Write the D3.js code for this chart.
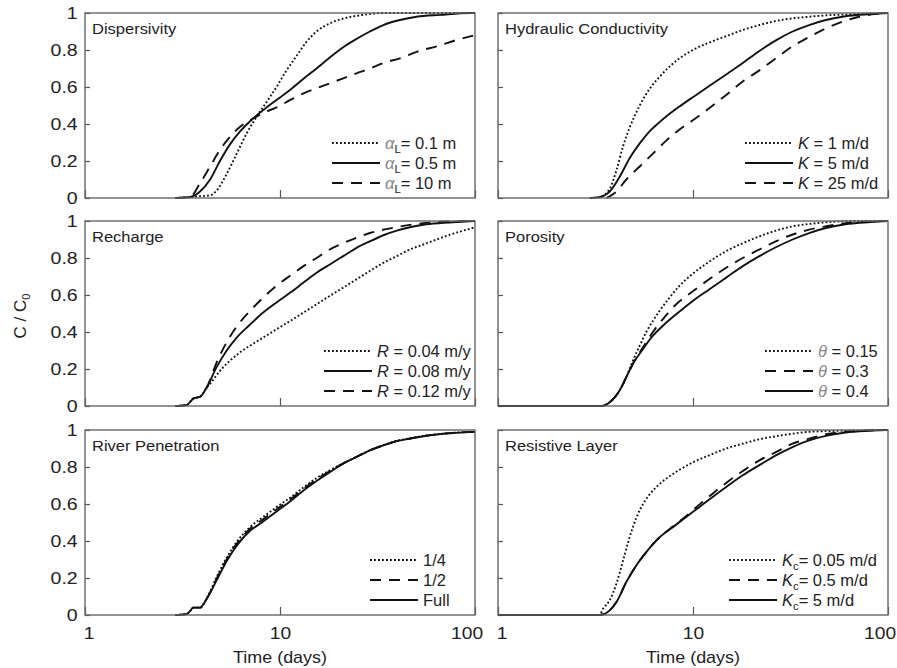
<!DOCTYPE html>
<html lang="en">
<head>
<meta charset="utf-8">
<title>Breakthrough curves</title>
<script src="https://d3js.org/d3.v7.min.js"></script>
<style>
  body { margin: 0; background: #fff; }
  svg text { font-family: "Liberation Sans", Arial, sans-serif; fill: #222; }
</style>
</head>
<body>
<div id="chart"></div>
<script>

// ---- data: [time (days), C/C0] ----
var dispA01 = [[2.9,0],[3.45,0.005],[3.9,0.01],[4.4,0.015],[4.73,0.04],[5.33,0.13],[6.0,0.24],[6.75,0.35],[7.6,0.44],[8.55,0.52],[9.6,0.6],[10.8,0.69],[12.2,0.77],[13.7,0.845],[15.4,0.9],[18,0.944],[21.1,0.97],[26.8,0.99],[34,1],[100,1]];
var dispA05 = [[2.9,0],[3.45,0.005],[3.89,0.035],[4.38,0.1],[4.92,0.2],[5.54,0.29],[6.24,0.36],[7.02,0.415],[8.2,0.475],[9.6,0.53],[11.3,0.585],[13.2,0.645],[15.4,0.7],[18,0.76],[21.1,0.815],[24.7,0.86],[28.9,0.9],[33.9,0.935],[41.2,0.962],[50.2,0.98],[66.2,0.99],[94.3,1],[100,1]];
var dispA10 = [[2.9,0],[3.45,0.005],[3.89,0.08],[4.38,0.17],[4.92,0.26],[5.54,0.33],[6.24,0.385],[7.02,0.42],[8.2,0.46],[9.6,0.49],[11.3,0.53],[13.2,0.566],[15.4,0.593],[18,0.62],[21.1,0.647],[24.7,0.674],[28.9,0.7],[33.9,0.73],[41.2,0.755],[50.2,0.79],[63.6,0.82],[80.5,0.854],[100,0.88]];

var hydK1 = [[2.96,0],[3.32,0.005],[3.74,0.05],[4.05,0.15],[4.38,0.28],[4.73,0.38],[5.33,0.5],[5.99,0.59],[6.74,0.655],[7.58,0.71],[8.53,0.755],[9.98,0.8],[12.1,0.84],[14.8,0.875],[18,0.908],[21.9,0.935],[26.6,0.957],[32.4,0.971],[39.4,0.98],[48,0.987],[71.1,0.995],[100,1]];
var hydK5 = [[2.96,0],[3.32,0.005],[3.74,0.035],[4.21,0.115],[4.73,0.215],[5.33,0.295],[5.99,0.36],[6.74,0.41],[7.58,0.455],[8.53,0.495],[9.98,0.545],[12.1,0.605],[14.8,0.668],[18,0.73],[21.9,0.795],[26.6,0.852],[32.4,0.9],[39.4,0.935],[48,0.962],[58.4,0.98],[71.1,0.99],[100,1]];
var hydK25 = [[3.6,0],[4.05,0.035],[4.55,0.1],[5.33,0.17],[6.23,0.24],[7.29,0.31],[8.53,0.37],[9.98,0.42],[12.1,0.485],[14.8,0.557],[18,0.63],[21.9,0.69],[26.6,0.755],[32.4,0.82],[39.4,0.87],[48,0.917],[58.4,0.953],[71.1,0.98],[86.5,0.995],[100,1]];

var rchR004 = [[2.9,0],[3.32,0.005],[3.59,0.04],[3.89,0.05],[4.21,0.1],[4.38,0.12],[4.92,0.19],[5.54,0.245],[6.24,0.29],[7.02,0.326],[8.2,0.37],[9.6,0.415],[11.3,0.46],[13.2,0.505],[15.4,0.55],[18,0.595],[21.1,0.64],[24.7,0.685],[28.9,0.73],[33.9,0.774],[39.7,0.81],[46.4,0.846],[54.3,0.873],[63.6,0.9],[74.5,0.926],[87.1,0.948],[100,0.966]];
var rchR008 = [[2.9,0],[3.32,0.005],[3.59,0.04],[3.89,0.05],[4.21,0.1],[4.73,0.21],[5.33,0.3],[6.0,0.37],[7.02,0.44],[8.2,0.505],[9.6,0.56],[11.3,0.613],[13.2,0.667],[15.4,0.72],[18,0.765],[21.1,0.81],[24.7,0.855],[28.9,0.89],[33.9,0.923],[39.7,0.948],[46.4,0.966],[54.3,0.98],[68.8,0.99],[100,1]];
var rchR012 = [[2.9,0],[3.32,0.005],[3.59,0.04],[3.89,0.05],[4.21,0.1],[4.73,0.235],[5.33,0.345],[6.0,0.43],[7.02,0.514],[8.2,0.586],[9.6,0.65],[11.3,0.705],[13.2,0.756],[15.4,0.8],[18,0.846],[21.1,0.88],[24.7,0.91],[28.9,0.935],[33.9,0.953],[41.2,0.97],[50.2,0.984],[63.6,0.995],[100,1]];

var poro015 = [[1,0],[3.39,0],[3.74,0.02],[4.21,0.085],[4.55,0.156],[4.92,0.245],[5.33,0.326],[5.76,0.4],[6.23,0.46],[6.74,0.514],[7.58,0.586],[8.53,0.65],[9.98,0.715],[12.1,0.78],[14.8,0.837],[18,0.88],[21.9,0.917],[26.6,0.948],[32.4,0.971],[39.4,0.984],[48,0.993],[65.7,1],[100,1]];
var poro03 = [[1,0],[3.39,0],[3.74,0.02],[4.21,0.085],[4.55,0.156],[4.92,0.228],[5.54,0.317],[6.23,0.4],[7.01,0.47],[8.2,0.55],[9.98,0.62],[12.1,0.685],[14.8,0.747],[18,0.8],[21.9,0.846],[26.6,0.89],[32.4,0.927],[39.4,0.953],[48,0.971],[58.4,0.986],[71.1,0.995],[100,1]];
var poro04 = [[1,0],[3.39,0],[3.74,0.02],[4.21,0.085],[4.55,0.156],[4.92,0.228],[5.54,0.308],[6.23,0.38],[7.01,0.434],[8.2,0.496],[9.98,0.568],[12.1,0.63],[14.8,0.694],[18,0.756],[21.9,0.81],[26.6,0.858],[32.4,0.9],[39.4,0.935],[48,0.962],[58.4,0.98],[71.1,0.99],[100,1]];

var rivQuarter = [[2.9,0],[3.32,0.005],[3.45,0.02],[3.59,0.04],[3.89,0.04],[4.21,0.09],[4.73,0.205],[5.33,0.31],[6.0,0.395],[7.02,0.475],[8.2,0.53],[9.6,0.583],[11.3,0.635],[13.2,0.69],[15.4,0.74],[18,0.782],[21.1,0.82],[24.7,0.856],[28.9,0.89],[33.9,0.918],[39.7,0.942],[46.4,0.955],[54.3,0.968],[68.8,0.98],[87.1,0.988],[100,0.99]];
var rivHalf = [[2.9,0],[3.32,0.005],[3.45,0.02],[3.59,0.04],[3.89,0.04],[4.21,0.088],[4.73,0.196],[5.33,0.302],[6.0,0.386],[7.02,0.466],[8.2,0.518],[9.6,0.572],[11.3,0.625],[13.2,0.682],[15.4,0.733],[18,0.778],[21.1,0.82],[24.7,0.855],[28.9,0.89],[33.9,0.917],[39.7,0.94],[46.4,0.954],[54.3,0.967],[68.8,0.98],[87.1,0.988],[100,0.99]];
var rivFull = [[2.9,0],[3.32,0.005],[3.45,0.02],[3.59,0.04],[3.89,0.04],[4.21,0.088],[4.73,0.187],[5.33,0.292],[6.0,0.375],[7.02,0.455],[8.2,0.505],[9.6,0.56],[11.3,0.615],[13.2,0.673],[15.4,0.724],[18,0.772],[21.1,0.818],[24.7,0.854],[28.9,0.89],[33.9,0.917],[39.7,0.94],[46.4,0.953],[54.3,0.966],[68.8,0.98],[87.1,0.987],[100,0.99]];

var resKc005 = [[1,0],[3.32,0],[3.46,0.034],[3.74,0.08],[4.05,0.17],[4.38,0.295],[4.73,0.42],[5.12,0.525],[5.54,0.6],[5.99,0.652],[6.74,0.708],[7.58,0.75],[8.53,0.785],[9.98,0.825],[12.1,0.863],[14.8,0.9],[18,0.926],[21.9,0.95],[26.6,0.966],[32.4,0.98],[39.4,0.99],[58.4,0.996],[100,1]];
var resKc05 = [[1,0],[3.32,0],[3.74,0.025],[4.05,0.07],[4.55,0.178],[5.12,0.268],[5.76,0.34],[6.74,0.42],[7.88,0.478],[9.23,0.535],[10.8,0.598],[12.6,0.656],[14.8,0.714],[18,0.778],[21.9,0.836],[26.6,0.88],[32.4,0.926],[39.4,0.953],[48,0.977],[58.4,0.99],[71.1,0.995],[100,1]];
var resKc5 = [[1,0],[3.32,0],[3.74,0.025],[4.05,0.07],[4.55,0.178],[5.12,0.268],[5.76,0.34],[6.74,0.42],[7.88,0.475],[9.23,0.53],[10.8,0.584],[12.6,0.638],[14.8,0.692],[18,0.755],[21.9,0.81],[26.6,0.863],[32.4,0.908],[39.4,0.944],[48,0.968],[58.4,0.984],[71.1,0.993],[100,1]];

// ---- labels ----
var panelTitles = ["Dispersivity", "Hydraulic Conductivity", "Recharge", "Porosity", "River Penetration", "Resistive Layer"];
var xTicks = [1, 10, 100];
var xTickLabels = ["1", "10", "100"];
var yTicks = [0, 0.2, 0.4, 0.6, 0.8, 1];
var yTickLabels = ["0", "0.2", "0.4", "0.6", "0.8", "1"];
var xTitle = "Time (days)";

// legend pieces: [text, kind]  kind: "" plain, "i" italic, "g" greek symbol, "s" subscript
var dispLabels = [[["α","g"],["L","s"],["= 0.1 m",""]], [["α","g"],["L","s"],["= 0.5 m",""]], [["α","g"],["L","s"],["= 10 m",""]]];
var hydLabels = [[["K","i"],[" = 1 m/d",""]], [["K","i"],[" = 5 m/d",""]], [["K","i"],[" = 25 m/d",""]]];
var rchLabels = [[["R","i"],[" = 0.04 m/y",""]], [["R","i"],[" = 0.08 m/y",""]], [["R","i"],[" = 0.12 m/y",""]]];
var poroLabels = [[["θ","g"],[" = 0.15",""]], [["θ","g"],[" = 0.3",""]], [["θ","g"],[" = 0.4",""]]];
var rivLabels = [[["1/4",""]], [["1/2",""]], [["Full",""]]];
var resLabels = [[["K","i"],["c","s"],["= 0.05 m/d",""]], [["K","i"],["c","s"],["= 0.5 m/d",""]], [["K","i"],["c","s"],["= 5 m/d",""]]];

// ---- layout ----
var w = 897, h = 668;
var panelW = 390, panelH = 185;
var colX = [85, 498];
var rowY = [13, 221, 430];

var dashStyle = { dot: "1.8,2.2", solid: null, dash: "11,8" };

var panels = [
  { title: panelTitles[0], col: 0, row: 0, legendX: 300, series: [dispA01, dispA05, dispA10], styles: ["dot","solid","dash"], labels: dispLabels },
  { title: panelTitles[1], col: 1, row: 0, legendX: 300, series: [hydK1, hydK5, hydK25], styles: ["dot","solid","dash"], labels: hydLabels },
  { title: panelTitles[2], col: 0, row: 1, legendX: 292, series: [rchR004, rchR008, rchR012], styles: ["dot","solid","dash"], labels: rchLabels },
  { title: panelTitles[3], col: 1, row: 1, legendX: 320, series: [poro015, poro03, poro04], styles: ["dot","dash","solid"], labels: poroLabels },
  { title: panelTitles[4], col: 0, row: 2, legendX: 338, series: [rivQuarter, rivHalf, rivFull], styles: ["dot","dash","solid"], labels: rivLabels },
  { title: panelTitles[5], col: 1, row: 2, legendX: 284, series: [resKc005, resKc05, resKc5], styles: ["dot","dash","solid"], labels: resLabels }
];

var svg = d3.select("#chart").append("svg")
  .attr("width", w)
  .attr("height", h);

var xScale = d3.scaleLog().domain([1, 100]).range([0, panelW]);
var yScale = d3.scaleLinear().domain([0, 1]).range([panelH, 0]);

var line = d3.line()
  .x(function(d) { return xScale(d[0]); })
  .y(function(d) { return yScale(d[1]); })
  .curve(d3.curveMonotoneX);

panels.forEach(function(p) {
  var g = svg.append("g")
    .attr("transform", "translate(" + colX[p.col] + "," + rowY[p.row] + ")");

  // y ticks (inward), labels only in left column
  var yAxis = d3.axisLeft(yScale)
    .tickValues(yTicks)
    .tickSize(-5)
    .tickPadding(6)
    .tickFormat(function(d, i) { return p.col === 0 ? yTickLabels[i] : ""; });
  var ya = g.append("g").call(yAxis);
  ya.select(".domain").remove();
  ya.selectAll("line").attr("stroke", "#555").attr("stroke-width", 1.2);
  ya.selectAll("text")
    .attr("font-size", 16)
    .attr("fill", "#222")
    .attr("transform", "scale(1.22,1)");

  // x ticks
  var xAxis = d3.axisBottom(xScale)
    .tickValues(xTicks)
    .tickSize(-8)
    .tickPadding(13)
    .tickFormat(function(d, i) { return p.row === 2 ? xTickLabels[i] : ""; });
  var xa = g.append("g")
    .attr("transform", "translate(0," + panelH + ")")
    .call(xAxis);
  xa.select(".domain").remove();
  xa.selectAll("line").attr("stroke", "#555").attr("stroke-width", 1.2);
  xa.selectAll("text")
    .attr("font-size", 16)
    .attr("fill", "#222")
    .attr("dx", function(d) { return d === 100 ? -7 : (d === 1 ? 3 : 0); })
    .attr("transform", "scale(1.2,1)");

  // curves
  p.series.forEach(function(s, i) {
    g.append("path")
      .datum(s)
      .attr("d", line)
      .attr("fill", "none")
      .attr("stroke", "#111")
      .attr("stroke-width", 1.9)
      .attr("stroke-dasharray", dashStyle[p.styles[i]]);
  });

  // frame
  g.append("rect")
    .attr("width", panelW)
    .attr("height", panelH)
    .attr("fill", "none")
    .attr("stroke", "#666")
    .attr("stroke-width", 1.4);

  // title
  g.append("text")
    .attr("transform", "translate(7,21) scale(1.1,1)")
    .attr("font-size", 15)
    .text(p.title);

  // legend
  p.labels.forEach(function(parts, i) {
    var cy = 130 + i * 20;
    g.append("line")
      .attr("x1", p.legendX - 53)
      .attr("x2", p.legendX - 5)
      .attr("y1", cy)
      .attr("y2", cy)
      .attr("stroke", "#111")
      .attr("stroke-width", 1.9)
      .attr("stroke-dasharray", dashStyle[p.styles[i]]);

    var t = g.append("text")
      .attr("transform", "translate(" + p.legendX + "," + (cy + 6) + ") scale(1.03,1)")
      .attr("font-size", 16);
    var shifted = false;
    parts.forEach(function(part) {
      var ts = t.append("tspan").text(part[0]);
      if (part[1] === "i") ts.attr("font-style", "italic");
      if (part[1] === "g") ts.attr("font-style", "italic").attr("fill", "#888");
      if (part[1] === "s") { ts.attr("font-size", 11).attr("dy", 4); shifted = true; }
      else if (shifted) { ts.attr("dy", -4); shifted = false; }
    });
  });

  // x axis title under bottom row
  if (p.row === 2) {
    g.append("text")
      .attr("transform", "translate(" + (panelW / 2) + "," + (panelH + 48) + ") scale(1.12,1)")
      .attr("text-anchor", "middle")
      .attr("font-size", 16)
      .text(xTitle);
  }
});

// y axis title
var yt = svg.append("text")
  .attr("transform", "translate(26,316) rotate(-90)")
  .attr("text-anchor", "middle")
  .attr("font-size", 17);
yt.append("tspan").text("C / C");
yt.append("tspan").text("0").attr("font-size", 11).attr("dy", 4);

</script>
</body>
</html>
